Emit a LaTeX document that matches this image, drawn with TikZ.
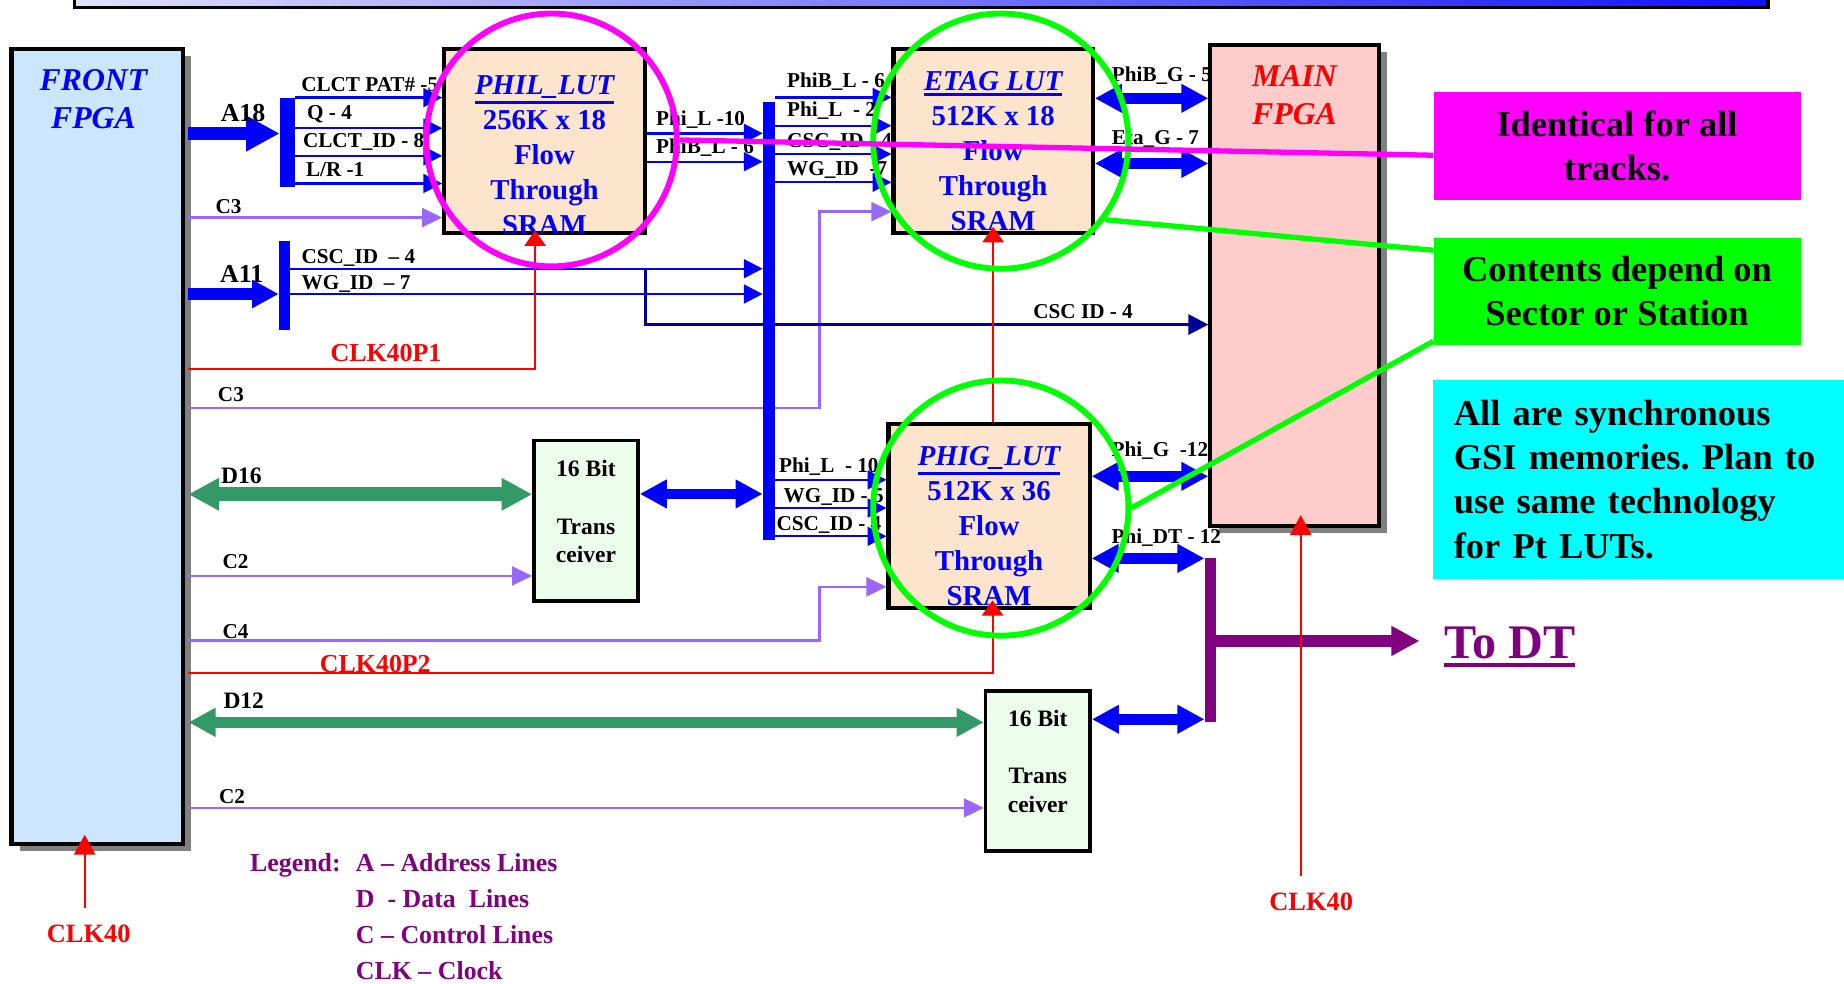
\documentclass[tikz,border=0pt]{standalone}
\usepackage{fontspec}
\setmainfont{Liberation Serif}
\usetikzlibrary{arrows.meta,shapes.geometric,shadows}
\definecolor{barleft}{RGB}{224,224,255}
\definecolor{barright}{RGB}{16,16,255}
\definecolor{frontfill}{RGB}{204,230,255}
\definecolor{lutfill}{RGB}{253,228,204}
\definecolor{mainfill}{RGB}{255,204,204}
\definecolor{xcvrfill}{RGB}{236,253,236}
\definecolor{shadowgray}{RGB}{128,128,128}
\definecolor{sigblue}{RGB}{0,0,255}
\definecolor{ctlpurple}{RGB}{153,102,255}
\definecolor{clkred}{RGB}{255,0,0}
\definecolor{dgreen}{RGB}{51,153,102}
\definecolor{navyline}{RGB}{0,0,153}
\definecolor{dtpurple}{RGB}{128,0,128}
\definecolor{notemagenta}{RGB}{255,0,255}
\definecolor{notegreen}{RGB}{0,255,0}
\definecolor{notecyan}{RGB}{0,255,255}
\newcommand{\thickul}[2][2.5pt]{\leavevmode\vtop{\hbox{#2}\kern#1\hrule height #1}}
\frenchspacing

\begin{document}
\begin{tikzpicture}[x=1pt, y=-1pt, font=\bfseries,
    fpgabox/.style={draw, line width=3.5pt, inner sep=0,
      drop shadow={shadow xshift=7.5pt, shadow yshift=-6pt, fill=shadowgray, opacity=1}},
    lutbox/.style={draw, fill=lutfill, line width=3.5pt, inner sep=0},
    xcvrbox/.style={draw, fill=xcvrfill, line width=3pt, inner sep=0},
    busbar/.style={fill=sigblue, inner sep=0},
    ring/.style={ellipse, draw, line width=5pt, inner sep=0},
    notebox/.style={inner sep=0, align=center, font=\bfseries\fontsize{31}{37.5}\selectfont},
    fpgatext/.style={align=center, inner sep=0, anchor=north, font=\bfseries\itshape\fontsize{27}{32.5}\selectfont},
    luttext/.style={text=sigblue, align=center, inner sep=0, anchor=north, font=\bfseries\fontsize{24.5}{29.8}\selectfont},
    xcvrtext/.style={align=center, inner sep=0, anchor=north, font=\bfseries\fontsize{20}{24.5}\selectfont},
    lbl/.style={inner sep=0, anchor=base west, font=\bfseries\fontsize{18}{18}\selectfont},
    lblbig/.style={lbl, font=\bfseries\fontsize{22}{22}\selectfont},
    lblmid/.style={lbl, font=\bfseries\fontsize{20}{20}\selectfont},
    clklbl/.style={text=clkred, inner sep=0, font=\bfseries\fontsize{22.5}{22.5}\selectfont},
    sig/.style={draw=sigblue, line width=2pt, -{Triangle[length=16pt,width=16pt]}},
    ctl/.style={draw=ctlpurple, line width=2.2pt, -{Triangle[length=17pt,width=16pt]}},
    clk/.style={draw=clkred, line width=1.7pt, -{Triangle[length=#1,width=18pt]}},
    clk/.default=13pt,
    addr/.style 2 args={draw=sigblue, line width=#1, -{Triangle[length=#2,width=#2]}},
    data/.style 2 args={draw=dgreen, line width=#1, {Triangle[length=#2,width=#2]}-{Triangle[length=#2,width=#2]}},
    bidir/.style={draw=sigblue, line width=9pt, {Triangle[length=23pt,width=23pt]}-{Triangle[length=23pt,width=23pt]}},
    dtout/.style={draw=dtpurple, line width=10pt, -{Triangle[length=24pt,width=24pt]}},
    cscout/.style={draw=navyline, line width=2.5pt, -{Triangle[length=17pt,width=17pt]}},
    callout/.style={line width=4.5pt}]
  \useasboundingbox (0,0) rectangle (1568,836);
  \clip (0,0) rectangle (1568,836);
  \draw[line width=3pt, left color=barleft, right color=barright] (63.5,-20) rectangle (1503.5,6.5);

  % blocks
  \node[fpgabox, fill=frontfill, minimum width=145.5pt, minimum height=676pt, outer xsep=5pt] (front) at (82.5,380) {};
  \node[fpgabox, fill=mainfill, minimum width=143pt, minimum height=409pt] (mainfpga) at (1100.75,242.75) {};
  \node[lutbox, minimum width=170.5pt, minimum height=156.5pt] (phil) at (463,120) {};
  \node[lutbox, minimum width=169.5pt, minimum height=156.5pt] (etag) at (844.5,120) {};
  \node[lutbox, minimum width=171pt, minimum height=156.5pt] (phig) at (841,438.5) {};
  \node[xcvrbox, minimum width=88.5pt, minimum height=136.5pt] (xcvrA) at (498.25,442.75) {};
  \node[xcvrbox, minimum width=89pt, minimum height=136pt] (xcvrB) at (882.5,655.5) {};

  \node[fpgatext, text=sigblue] (fronttitle) at ([xshift=-3pt, yshift=-18.6pt]front.north) {FRONT\\FPGA};
  \node[fpgatext, text=clkred] (maintitle) at ([yshift=-18.6pt]mainfpga.north) {MAIN\\FPGA};
  \node[luttext] (philtxt) at ([yshift=-23.8pt]phil.north) {\thickul{\itshape PHIL\_LUT}\\256K x 18\\Flow\\Through\\SRAM};
  \node[luttext] (etagtxt) at ([yshift=-20.3pt]etag.north) {\thickul{\itshape ETAG LUT}\\512K x 18\\Flow\\Through\\SRAM};
  \node[luttext] (phigtxt) at ([yshift=-20.8pt]phig.north) {\thickul{\itshape PHIG\_LUT}\\512K x 36\\Flow\\Through\\SRAM};
  \node[xcvrtext] (xcvrAtxt) at ([yshift=-18pt]xcvrA.north) {16 Bit\\[24.5pt]Trans\\ceiver};
  \node[xcvrtext] (xcvrBtxt) at ([yshift=-17.5pt]xcvrB.north) {16 Bit\\[24.5pt]Trans\\ceiver};

  \node[busbar, minimum width=13pt, minimum height=76pt] (busA) at (244.5,121) {};
  \node[busbar, minimum width=9.6pt, minimum height=76pt] (busB) at (242,242.6) {};
  \node[busbar, fill=dtpurple, minimum width=9.6pt, minimum height=139pt] (dtbus) at (1029.2,544) {};

  % lines that pass under the big bus
  \draw[ctl] (front.east |- 0,347) node[lbl, xshift=24pt, yshift=5.5pt] (lblcthree) {C3} -| (697,180) -- (etag.west |- 0,180);
  \coordinate (cscbranch) at (549,228.5);
  \draw[cscout] (cscbranch) |- (mainfpga.west |- 0,276) node[lbl, pos=1, anchor=base east, xshift=-63pt, yshift=5pt] (lblcscmain) {CSC ID - 4};
  \node[busbar, minimum width=10pt, minimum height=373pt] (bigbus) at (653.7,273) {};

  % address lines
  \draw[addr={11pt}{28.5pt}] (front.east |- 0,113.5) node[lblbig, xshift=22pt, yshift=10pt] (lblaeighteen) {A18} -- (busA.west |- 0,113.5);
  \draw[sig] (busA.east |- 0,83) node[lbl, xshift=4pt, yshift=5pt] (lblpat) {CLCT PAT\# -5} -- (phil.west |- 0,83);
  \draw[sig] (busA.east |- 0,109) node[lbl, xshift=9pt, yshift=7pt] (lblq) {Q - 4} -- (phil.west |- 0,109);
  \draw[sig] (busA.east |- 0,132.5) node[lbl, xshift=5.5pt, yshift=7pt] (lblclctid) {CLCT\_ID - 8} -- (phil.west |- 0,132.5);
  \draw[sig] (busA.east |- 0,156) node[lbl, xshift=8pt, yshift=6pt] (lbllr) {L/R -1} -- (phil.west |- 0,156);
  \draw[ctl] (front.east |- 0,185) node[lbl, xshift=22pt, yshift=3.5pt] (lblcthreea) {C3} -- (phil.west |- 0,185);
  \draw[addr={10pt}{22.7pt}] (front.east |- 0,250) node[lblbig, xshift=22pt, yshift=10pt] (lblaeleven) {A11} -- (busB.west |- 0,250);
  \draw[sig] (busB.east |- 0,228.5) node[lbl, xshift=8.5pt, yshift=4.5pt] (lblcscid) {CSC\_ID\ \ -- 4} -- (bigbus.west |- 0,228.5);
  \draw[sig] (busB.east |- 0,250) node[lbl, xshift=8.5pt, yshift=4pt] (lblwgid) {WG\_ID\ \ -- 7} -- (bigbus.west |- 0,250);
  \draw[clk] (front.east |- 0,313.8) node[lblbig, text=clkred, xshift=120pt, yshift=6pt] (lblclkone) {CLK40P1} -| ([xshift=-8pt, yshift=4pt]phil.south);

  % lut outputs and bus
  \draw[sig] (phil.east |- 0,113.4) node[lbl, xshift=7pt, yshift=7pt] (lblphil) {Phi\_L -10} -- (bigbus.west |- 0,113.4);
  \draw[sig] (phil.east |- 0,137.5) node[lbl, xshift=7pt, yshift=7pt] (lblphibl) {PhiB\_L - 6} -- (bigbus.west |- 0,137.5);
  \draw[sig] (bigbus.east |- 0,82.8) node[lbl, xshift=9.5pt, yshift=8pt] (lbletaa) {PhiB\_L - 6} -- (etag.west |- 0,82.8);
  \draw[sig] (bigbus.east |- 0,106.9) node[lbl, xshift=9.5pt, yshift=8pt] (lbletab) {Phi\_L\ \ - 2} -- (etag.west |- 0,106.9);
  \draw[sig] (bigbus.east |- 0,131) node[lbl, xshift=9.5pt, yshift=6pt] (lbletac) {CSC\_ID - 4} -- (etag.west |- 0,131);
  \draw[sig] (bigbus.east |- 0,155) node[lbl, xshift=9.5pt, yshift=6pt] (lbletad) {WG\_ID\ \ -7} -- (etag.west |- 0,155);
  \draw[sig] (bigbus.east |- 0,408) node[lbl, xshift=2.6pt, yshift=6pt] (lblphiga) {Phi\_L\ \ - 10} -- (phig.west |- 0,408);
  \draw[sig] (bigbus.east |- 0,432) node[lbl, xshift=6.5pt, yshift=5pt] (lblphigb) {WG\_ID - 5} -- (phig.west |- 0,432);
  \draw[sig] (bigbus.east |- 0,456) node[lbl, xshift=0.5pt, yshift=5pt] (lblphigc) {CSC\_ID - 4} -- (phig.west |- 0,456);
  \draw[ctl] (front.east |- 0,544.7) node[lbl, xshift=28pt, yshift=2pt] (lblcfour) {C4} -| (697,499) -- (phig.west |- 0,499);
  \draw[clk] (front.east |- 0,572) node[lblbig, text=clkred, xshift=111pt] (lblclktwo) {CLK40P2} -| ([xshift=3pt, yshift=8pt]phig.south);
  \draw[clk] (etag.south |- phig.north) -- ([yshift=7pt]etag.south);

  % data lines
  \draw[data={11.7pt}{26pt}] (front.east |- 0,420.3) node[lblmid, xshift=22pt, yshift=9pt] (lbldsixteen) {D16} -- (xcvrA.west |- 0,420.3);
  \draw[ctl] (front.east |- 0,489.7) node[lbl, xshift=28pt, yshift=6.5pt] (lblctwo) {C2} -- (xcvrA.west |- 0,489.7);
  \draw[bidir] (xcvrA.east |- 0,420) -- (bigbus.west |- 0,420);
  \draw[data={9.6pt}{23pt}] (front.east |- 0,614.2) node[lblmid, xshift=25pt, yshift=12pt] (lbldtwelve) {D12} -- (xcvrB.west |- 0,614.2);
  \draw[ctl] (front.east |- 0,687) node[lbl, xshift=25pt, yshift=4pt] (lblctwob) {C2} -- (xcvrB.west |- 0,687);
  \draw[bidir] (xcvrB.east |- 0,611.6) -- (dtbus.west |- 0,611.6);

  % to main fpga
  \draw[bidir] (etag.east |- 0,83.6) node[lbl, xshift=10pt, yshift=14pt] (lblphibg) {PhiB\_G - 5} -- (mainfpga.west |- 0,83.6);
  \draw[bidir] (etag.east |- 0,139) node[lbl, xshift=10pt, yshift=16pt] (lbletag) {Eta\_G - 7} -- (mainfpga.west |- 0,139);
  \draw[bidir] (phig.east |- 0,405) node[lbl, xshift=12.5pt, yshift=17pt] (lblphig) {Phi\_G\ \ -12} -- (mainfpga.west |- 0,405);
  \draw[bidir] (phig.east |- 0,474.8) node[lbl, xshift=12.5pt, yshift=13pt] (lblphidt) {Phi\_DT - 12} -- (dtbus.west |- 0,474.8);
  \node[anchor=base west, inner sep=0, text=dtpurple, font=\bfseries\fontsize{41}{41}\selectfont] (todtlbl) at (1228,559.6) {\thickul[3.7pt]{To DT}};
  \draw[dtout] (dtbus.east |- 0,545) -- ([xshift=-21pt]todtlbl.west |- 0,545);

  % clocks
  \node[clklbl] (clkL) at (75.5,794) {CLK40};
  \node[clklbl] (clkR) at (1115,767) {CLK40};
  \draw[clk=17pt] ([xshift=-3.5pt, yshift=14pt]clkL.north) -- ([xshift=-10.5pt, yshift=10pt]front.south);
  \draw[clk=17pt] ([xshift=-9pt, yshift=14pt]clkR.north) -- ([xshift=5.25pt, yshift=11pt]mainfpga.south);

  \node[anchor=base west, inner sep=0, text=dtpurple, font=\bfseries\fontsize{22}{30.5}\selectfont] (legend) at (212.5,741)
    {\begin{tabular}[t]{@{}l@{\hspace{13pt}}l@{}}Legend: & A -- Address Lines\\ & D\ \ - Data\ \ Lines\\ & C -- Control Lines\\ & CLK -- Clock\end{tabular}};

  % notes
  \node[notebox, fill=notemagenta, minimum width=312pt, minimum height=92pt] (identical) at (1375,124) {Identical for all\\tracks.};
  \node[notebox, fill=notegreen, minimum width=312pt, minimum height=91pt] (contents) at (1375,247.5) {Contents depend on\\Sector or Station};
  \node[notebox, fill=notecyan, anchor=north west, text width=324pt, inner xsep=18pt, minimum height=169pt, align=left] (synch) at (1218,323)
    {All are synchronous\\GSI memories. Plan to\\use same technology\\for Pt LUTs.};

  \node[ring, draw=notemagenta, minimum width=213pt, minimum height=215pt] (philring) at (469,119) {};
  \node[ring, draw=notegreen, minimum width=217pt, minimum height=217pt] (etagring) at (851,120) {};
  \node[ring, draw=notegreen, minimum width=217pt, minimum height=217pt] (phigring) at (851,432) {};
  \draw[callout, notemagenta] (philring.east) -- ([yshift=-8pt]identical.west);
  \draw[callout, notegreen] (etagring.-37) -- ([yshift=-11pt]contents.north west);
  \draw[callout, notegreen] (phigring.east) -- ([yshift=3pt]contents.south west);
\end{tikzpicture}
\end{document}
